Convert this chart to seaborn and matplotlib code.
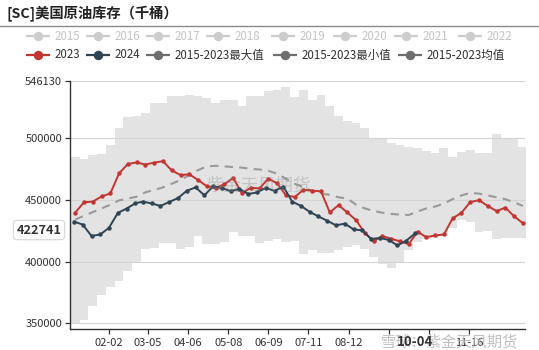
import numpy as np
import pandas as pd
import matplotlib
matplotlib.use("Agg")
import matplotlib.pyplot as plt
import seaborn as sns

# ---------------- data (thousand barrels) ----------------
stock_2023 = [439.6, 448.0, 448.5, 452.7, 455.1, 471.4, 479.0, 480.2, 478.5, 480.1,
              481.2, 473.7, 470.0, 470.6, 466.0, 460.9, 459.6, 462.6, 467.6, 455.2,
              459.7, 459.2, 467.1, 463.3, 453.7, 452.2, 458.1, 457.4, 456.8, 439.8,
              445.6, 439.7, 433.5, 422.9, 416.6, 420.6, 418.5, 416.3, 414.1, 424.2,
              419.7, 421.1, 421.9, 435.0, 439.4, 448.1, 449.7, 445.0, 440.8, 443.7,
              436.6, 431.1]
stock_2024 = [432.4, 429.9, 420.7, 421.9, 427.4, 439.4, 442.9, 447.2, 448.5, 447.0,
              445.0, 448.2, 451.4, 457.3, 460.0, 453.6, 460.9, 459.5, 457.0, 458.8,
              454.7, 455.9, 459.7, 457.1, 460.7, 448.5, 445.1, 440.2, 436.5, 433.0,
              429.3, 430.7, 426.0, 425.2, 418.3, 419.1, 417.5, 413.0, 416.9, 422.741]
band_max = [485, 483, 486, 487, 494, 508, 517, 518, 520, 528,
            528, 534, 534, 535, 534, 532, 528, 531, 531, 526,
            534, 534, 538, 539, 541, 533, 538.5, 531, 535, 526,
            518, 514, 512, 508, 499, 499.5, 496, 494, 493, 492,
            489.5, 488, 492, 485, 489, 490, 488, 488, 503.5, 499.5,
            499.5, 493]
band_min = [350, 353, 364, 373, 379, 384, 392, 399, 410, 411,
            415, 415, 410, 412, 421, 414, 414, 416, 424, 421,
            421, 415, 417, 418, 416, 417, 406, 409, 407, 407,
            409, 412, 413, 410, 404, 398, 395, 400, 409, 416,
            418, 419, 421, 427, 434, 432, 424, 425, 418, 419,
            419, 419]
band_avg = [434, 437, 440, 443, 446, 449.5, 451, 452.5, 456, 458,
            460, 463, 466, 470, 474, 477, 477.5, 477, 476.5, 476,
            475, 474.5, 473.5, 471, 467, 463, 460, 457, 455, 454,
            452, 451, 446, 443, 441, 439.5, 438.5, 438, 437.7, 440.5,
            443, 444.5, 447, 450.5, 453.5, 455.6, 455, 453.5, 452, 450.5,
            448, 445]
tick_labels = ["02-02", "03-05", "04-06", "05-08", "06-09", "07-11",
               "08-12", "09-13", "10-15", "11-16"]
y_ticks = [350000, 400000, 450000, 500000, 546130]
hover_value = 422741
hover_label = "10-04"
legend_years = ["2015", "2016", "2017", "2018", "2019", "2020", "2021", "2022"]

# ---------------- preparation ----------------
def doy(dates):
    # day of year on a common (non-leap) calendar, 0-based
    d = pd.to_datetime(["2023-" + x.strftime("%m-%d") for x in dates])
    return np.asarray(d.dayofyear - 1, dtype=float)

d23 = pd.date_range("2023-01-06", periods=len(stock_2023), freq="7D")
d24 = pd.date_range("2024-01-05", periods=len(stock_2024), freq="7D")
x23 = doy(d23)
x24 = doy(d24)
tick_x = doy(pd.to_datetime(["2023-" + t for t in tick_labels]))

df23 = pd.DataFrame({"x": x23, "v": np.array(stock_2023) * 1000})
df24 = pd.DataFrame({"x": x24, "v": np.array(stock_2024) * 1000})
dfavg = pd.DataFrame({"x": x23, "v": np.array(band_avg) * 1000})

# ---------------- style ----------------
sns.set_theme(style="white")
plt.rcParams['font.family'] = ['Noto Sans CJK SC', 'DejaVu Sans']

RED = "#c23531"
NAVY = "#2f4554"
GREY = "#6e6e6e"
TXT = "#333333"

fig = plt.figure(figsize=(5.39, 3.5), dpi=100)
W, H = 539, 350
ax = fig.add_axes([69.7 / W, 21 / H, (525 - 69.7) / W, (329 - 81) / H])

# band (stepped)
edges_l = x23 - 3.5
edges_r = x23 + 3.5
bx = np.ravel(np.column_stack([edges_l, edges_r]))
bmax = np.repeat(np.array(band_max) * 1000, 2)
bmin = np.repeat(np.array(band_min) * 1000, 2)
ax.fill_between(bx, bmin, bmax, color="#e3e3e3", linewidth=0, zorder=1)

# grid
for yv in y_ticks:
    ax.axhline(yv, color="#d4d4d4", linewidth=0.8, zorder=1.5)

sns.lineplot(data=dfavg, x="x", y="v", ax=ax, color="#9a9a9a", linewidth=1.5,
             dashes=False, zorder=2)
ax.lines[-1].set_dashes([4, 3])
sns.lineplot(data=df23, x="x", y="v", ax=ax, color=RED, linewidth=1.4,
             marker="o", markersize=3.2, markeredgewidth=0, zorder=3)
sns.lineplot(data=df24, x="x", y="v", ax=ax, color=NAVY, linewidth=1.4,
             marker="o", markersize=3.2, markeredgewidth=0, zorder=4)

ax.set_xlim(0.6, 363.7)
ax.set_ylim(345400, 546130)
ax.set_xlabel("")
ax.set_ylabel("")
ax.set_yticks(y_ticks)
ax.set_yticklabels([str(v) for v in y_ticks], fontsize=8, color=TXT)
ax.set_xticks(tick_x)
xl = list(tick_labels)
xl[7] = ""
xl[8] = ""
ax.set_xticklabels(xl, fontsize=8, color=TXT)
ax.tick_params(axis="both", which="both", length=3.5, width=0.9, color="#333333",
               direction="out", pad=2)
ax.tick_params(axis="x", bottom=True, pad=3)
ax.tick_params(axis="y", left=True)
for s in ["top", "right"]:
    ax.spines[s].set_visible(False)
for s in ["left", "bottom"]:
    ax.spines[s].set_color("#333333")
    ax.spines[s].set_linewidth(1.0)
ax.patch.set_alpha(0)

# ---------------- overlay (pixel coords) ----------------
ov = fig.add_axes([0, 0, 1, 1], zorder=10)
ov.set_xlim(0, W)
ov.set_ylim(H, 0)
ov.axis("off")
ov.patch.set_alpha(0)

ov.text(7, 14, "[SC]美国原油库存（千桶）", fontsize=10.3, fontweight="bold",
        color="#222222", va="center", ha="left")
ov.plot([0, W], [26, 26], color="#8a8a8a", linewidth=1.0)

def legend_item(xm, y, label, color, tcolor):
    ov.plot([xm - 12, xm + 12], [y, y], color=color, linewidth=1.6,
            solid_capstyle="butt")
    ov.plot([xm], [y], marker="o", markersize=6.8, color=color,
            markeredgewidth=0)
    ov.text(xm + 17, y, label, fontsize=8.3, color=tcolor, va="center", ha="left")

row1_x = [38, 98, 158, 218, 283, 345, 406, 470]
for xm, lab in zip(row1_x, legend_years):
    legend_item(xm, 36, lab, "#cccccc", "#c4c4c4")
legend_item(38, 55, "2023", RED, TXT)
legend_item(98, 55, "2024", NAVY, TXT)
legend_item(158, 55, "2015-2023最大值", GREY, TXT)
legend_item(285, 55, "2015-2023最小值", GREY, TXT)
legend_item(410, 55, "2015-2023均值", GREY, TXT)

# watermarks
ov.text(258, 186, "紫金天风期货", fontsize=12.5, color="#888888", alpha=0.35,
        ha="center", va="center")
ov.text(450, 342, "雪球：紫金天风期货", fontsize=11, color="#b5b5b5", alpha=0.85,
        ha="center", va="center")

# axis-pointer labels
ov.text(39, 230, str(hover_value), fontsize=9.2, fontweight="bold", color=TXT,
        ha="center", va="center",
        bbox=dict(boxstyle="round,pad=0.25,rounding_size=0.3", fc="white",
                  ec="#d6d6d6", lw=0.8))
hx = ax.transData.transform((x24[-1], 0))[0]
ov.text(hx, 342, hover_label, fontsize=9.5, fontweight="bold", color=TXT,
        ha="center", va="center")

fig.savefig("out.png", dpi=100)
